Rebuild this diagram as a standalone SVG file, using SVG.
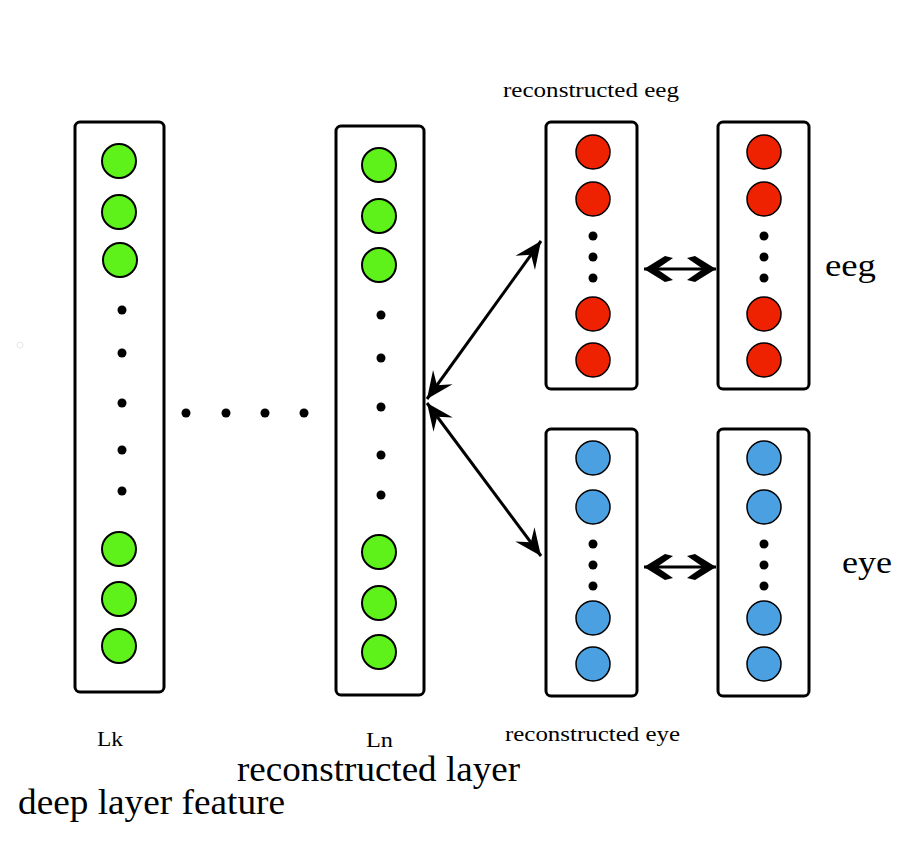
<svg xmlns="http://www.w3.org/2000/svg" width="918" height="850" viewBox="0 0 918 850">
<style>
.box{fill:#fff;stroke:#000;stroke-width:3}
.g{fill:#5ef21a;stroke:#000;stroke-width:2}
.r{fill:#ee2200;stroke:#000;stroke-width:1.5}
.b{fill:#4aa0e0;stroke:#000;stroke-width:1.5}
.d{fill:#000}
.t{font-family:"Liberation Serif",serif;fill:#000}
.conn{stroke:#000;stroke-width:3;fill:none}
</style>
<defs>
<marker id="barb" viewBox="-30 -15 32 30" refX="0" refY="0" markerWidth="32" markerHeight="30" markerUnits="userSpaceOnUse" orient="auto-start-reverse">
<path d="M0,0 L-27,-12 L-17,0 L-27,12 Z" fill="#000"/>
</marker>
<marker id="chev" viewBox="-32 -16 34 32" refX="0" refY="0" markerWidth="34" markerHeight="32" markerUnits="userSpaceOnUse" orient="auto-start-reverse">
<path d="M0,0 L-21,-13 L-29,-11 L-13,0 L-29,11 L-21,13 Z" fill="#000"/>
</marker>
</defs>
<rect width="918" height="850" fill="#fff"/>
<circle cx="20" cy="345" r="3" fill="none" stroke="#e6e6e6" stroke-width="1"/>

<g id="Lk">
<rect class="box" x="75" y="122" width="89" height="570" rx="5"/>
<circle class="g" cx="119" cy="161" r="17"/>
<circle class="g" cx="119" cy="212" r="17"/>
<circle class="g" cx="120" cy="260" r="17"/>
<circle class="d" cx="122" cy="310" r="4.5"/>
<circle class="d" cx="122" cy="353" r="4.5"/>
<circle class="d" cx="122" cy="403" r="4.5"/>
<circle class="d" cx="122" cy="450" r="4.5"/>
<circle class="d" cx="122" cy="491" r="4.5"/>
<circle class="g" cx="119" cy="549" r="17"/>
<circle class="g" cx="119" cy="599" r="17"/>
<circle class="g" cx="119" cy="646" r="17"/>
</g>

<g id="ellipsis">
<circle class="d" cx="186" cy="413" r="4.5"/>
<circle class="d" cx="226" cy="413" r="4.5"/>
<circle class="d" cx="265" cy="413" r="4.5"/>
<circle class="d" cx="304" cy="413" r="4.5"/>
</g>

<g id="Ln">
<rect class="box" x="336" y="126" width="88" height="569" rx="5"/>
<circle class="g" cx="379" cy="165" r="17"/>
<circle class="g" cx="379" cy="216" r="17"/>
<circle class="g" cx="379" cy="265" r="17"/>
<circle class="d" cx="381" cy="315" r="4.5"/>
<circle class="d" cx="381" cy="358" r="4.5"/>
<circle class="d" cx="381" cy="407" r="4.5"/>
<circle class="d" cx="381" cy="455" r="4.5"/>
<circle class="d" cx="381" cy="495" r="4.5"/>
<circle class="g" cx="379" cy="552" r="17"/>
<circle class="g" cx="379" cy="603" r="17"/>
<circle class="g" cx="379" cy="652" r="17"/>
</g>

<g id="eeg-recon">
<rect class="box" x="546" y="122" width="91" height="267" rx="5"/>
<circle class="r" cx="593" cy="152" r="17"/>
<circle class="r" cx="593" cy="199" r="17"/>
<circle class="d" cx="593" cy="236" r="4.5"/>
<circle class="d" cx="593" cy="257" r="4.5"/>
<circle class="d" cx="593" cy="278" r="4.5"/>
<circle class="r" cx="593" cy="314" r="17"/>
<circle class="r" cx="593" cy="360" r="17"/>
</g>

<g id="eeg">
<rect class="box" x="718" y="122" width="91" height="267" rx="5"/>
<circle class="r" cx="764" cy="152" r="17"/>
<circle class="r" cx="764" cy="199" r="17"/>
<circle class="d" cx="764" cy="236" r="4.5"/>
<circle class="d" cx="764" cy="257" r="4.5"/>
<circle class="d" cx="764" cy="278" r="4.5"/>
<circle class="r" cx="764" cy="314" r="17"/>
<circle class="r" cx="764" cy="360" r="17"/>
</g>

<g id="eye-recon">
<rect class="box" x="546" y="429" width="91" height="267" rx="5"/>
<circle class="b" cx="593" cy="458" r="17"/>
<circle class="b" cx="593" cy="507" r="17"/>
<circle class="d" cx="593" cy="544" r="4.5"/>
<circle class="d" cx="593" cy="565" r="4.5"/>
<circle class="d" cx="593" cy="586" r="4.5"/>
<circle class="b" cx="593" cy="618" r="17"/>
<circle class="b" cx="593" cy="664" r="17"/>
</g>

<g id="eye">
<rect class="box" x="718" y="429" width="91" height="267" rx="5"/>
<circle class="b" cx="764" cy="458" r="17"/>
<circle class="b" cx="764" cy="507" r="17"/>
<circle class="d" cx="764" cy="544" r="4.5"/>
<circle class="d" cx="764" cy="565" r="4.5"/>
<circle class="d" cx="764" cy="586" r="4.5"/>
<circle class="b" cx="764" cy="618" r="17"/>
<circle class="b" cx="764" cy="664" r="17"/>
</g>

<g id="connectors">
<line class="conn" x1="427" y1="399" x2="541" y2="241" marker-start="url(#barb)" marker-end="url(#barb)"/>
<line class="conn" x1="427" y1="403" x2="541" y2="556" marker-start="url(#barb)" marker-end="url(#barb)"/>
<line class="conn" x1="644" y1="269" x2="716" y2="269" stroke-width="4" marker-start="url(#chev)" marker-end="url(#chev)"/>
<line class="conn" x1="644" y1="567" x2="716" y2="567" stroke-width="4" marker-start="url(#chev)" marker-end="url(#chev)"/>
</g>

<g id="labels">
<text class="t" x="503" y="97" font-size="20" textLength="176" lengthAdjust="spacingAndGlyphs">reconstructed eeg</text>
<text class="t" x="825" y="276" font-size="31" textLength="51" lengthAdjust="spacingAndGlyphs">eeg</text>
<text class="t" x="842" y="573" font-size="31" textLength="50" lengthAdjust="spacingAndGlyphs">eye</text>
<text class="t" x="97" y="746" font-size="20" textLength="26" lengthAdjust="spacingAndGlyphs">Lk</text>
<text class="t" x="366" y="747" font-size="20" textLength="27" lengthAdjust="spacingAndGlyphs">Ln</text>
<text class="t" x="505" y="741" font-size="20" textLength="175" lengthAdjust="spacingAndGlyphs">reconstructed eye</text>
<text class="t" x="237" y="781" font-size="36" textLength="283" lengthAdjust="spacingAndGlyphs">reconstructed layer</text>
<text class="t" x="18" y="814" font-size="36" textLength="267" lengthAdjust="spacingAndGlyphs">deep layer feature</text>
</g>
</svg>
